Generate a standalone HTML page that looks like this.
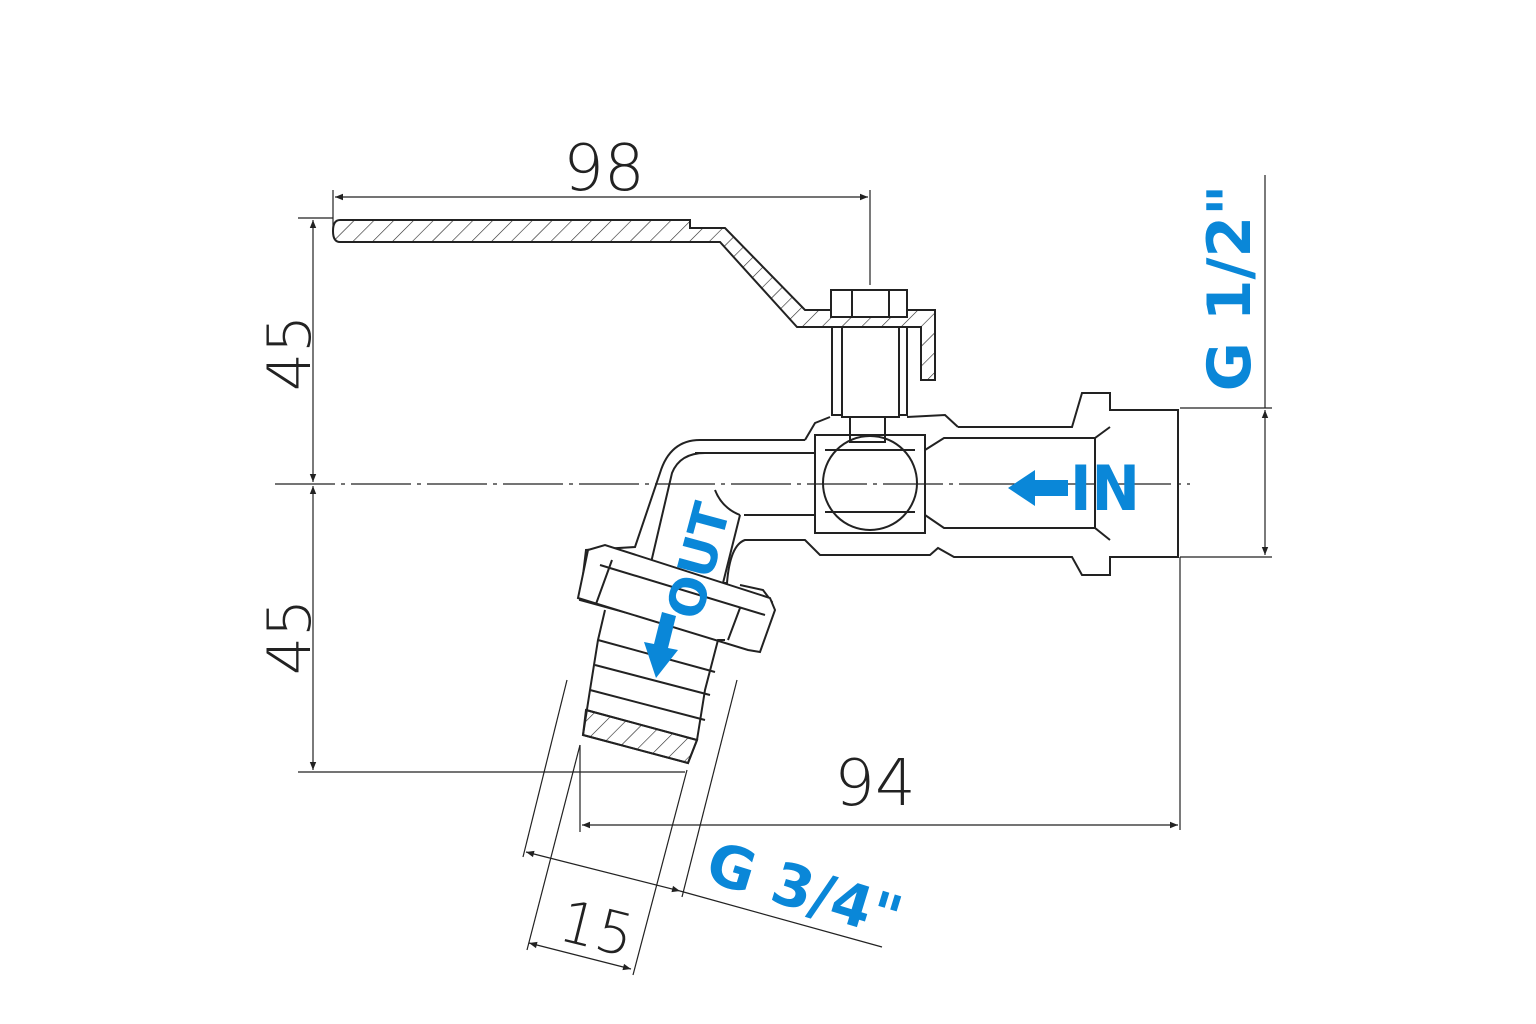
<!DOCTYPE html>
<html><head><meta charset="utf-8"><style>
html,body{margin:0;padding:0;background:#fff;}
svg{display:block}
.t{font-family:"DejaVu Sans","Liberation Sans",sans-serif;font-weight:200;fill:#222}
.b{font-family:"DejaVu Sans","Liberation Sans",sans-serif;font-weight:bold;fill:#0a87d8}
</style></head><body>
<svg width="1536" height="1024" viewBox="0 0 1536 1024" xmlns="http://www.w3.org/2000/svg">
<defs>
<pattern id="h" patternUnits="userSpaceOnUse" width="14" height="14" patternTransform="rotate(45)">
<line x1="0" y1="0" x2="0" y2="14" stroke="#222" stroke-width="1.2"/></pattern>
<marker id="a" viewBox="0 0 10 10" refX="10" refY="5" markerWidth="14" markerHeight="8" orient="auto-start-reverse" markerUnits="userSpaceOnUse"><path d="M0,1 L10,5 L0,9 z" fill="#222"/></marker>
</defs>
<g stroke="#222" stroke-width="1.2" fill="none">
<!-- 98 dim -->
<line x1="333" y1="190" x2="333" y2="232"/>
<line x1="870" y1="190" x2="870" y2="285"/>
<line x1="335" y1="197" x2="868" y2="197" marker-start="url(#a)" marker-end="url(#a)"/>
<!-- left vertical dims -->
<line x1="298" y1="218" x2="333" y2="218"/>
<line x1="275" y1="484" x2="1190" y2="484" stroke-dasharray="60 6 4 6"/>
<line x1="298" y1="772" x2="685" y2="772"/>
<line x1="313" y1="220" x2="313" y2="482" marker-start="url(#a)" marker-end="url(#a)"/>
<line x1="313" y1="486" x2="313" y2="770" marker-start="url(#a)" marker-end="url(#a)"/>
<!-- right dim -->
<line x1="1180" y1="408" x2="1272" y2="408"/>
<line x1="1180" y1="557" x2="1272" y2="557"/>
<line x1="1265" y1="175" x2="1265" y2="408"/>
<line x1="1265" y1="410" x2="1265" y2="555" marker-start="url(#a)" marker-end="url(#a)"/>
<!-- 94 -->
<line x1="1180" y1="557" x2="1180" y2="830"/>
<line x1="580" y1="745" x2="580" y2="832"/>
<line x1="582" y1="825" x2="1178" y2="825" marker-start="url(#a)" marker-end="url(#a)"/>
<!-- oblique dims -->
<line x1="567" y1="680" x2="523" y2="857"/>
<line x1="737" y1="680" x2="682" y2="897"/>
<line x1="526" y1="852" x2="680" y2="891" marker-start="url(#a)" marker-end="url(#a)"/>
<line x1="680" y1="891" x2="882" y2="947"/>
<line x1="580" y1="745" x2="527" y2="950"/>
<line x1="687" y1="770" x2="633" y2="975"/>
<line x1="529" y1="943" x2="631" y2="969" marker-start="url(#a)" marker-end="url(#a)"/>
</g>
<!-- handle -->
<g stroke="#222" stroke-width="2" fill="none">
<path d="M340,220 L690,220 L690,228 L725,228 L805,310 L935,310 L935,380 L921,380 L921,327 L797,327 L720,242 L340,242 Q333,242 333,231 Q333,220 340,220 Z" fill="url(#h)"/>
<!-- nut top -->
<rect x="831" y="290" width="76" height="27" fill="#fff"/>
<line x1="852" y1="290" x2="852" y2="317"/><line x1="889" y1="290" x2="889" y2="317"/>
<!-- stem / bonnet -->
<path d="M832,327 L832,415 L842,415 L842,327 M907,327 L907,415 L899,415 L899,327"/>
<rect x="842" y="327" width="57" height="90"/>
<rect x="850" y="417" width="35" height="25"/>
<!-- body -->
<path d="M958,427 L1072,427 L1082,393 L1110,393 L1110,410 L1178,410 L1178,557 L1110,557 L1110,575 L1082,575 L1072,557 L954,557 L938,548 L930,555 L820,555 L805,540 L745,540 Q730,545 727,583 L723,583 L752,647 L772,602 L763,590 L740,585 M805,440 L815,423 L830,417 M907,417 L945,415 L958,427"/>
<path d="M805,440 L700,440 Q670,440 660,473 L635,547 L586,550 L580,600 L752,647"/>
<path d="M695,453 L815,453 M744,515 L815,515 M715,490 Q722,508 740,515 M705,453 Q680,453 672,473 L650,567"/>
<path d="M740,515 L723,583"/>
<!-- ball housing -->
<rect x="815" y="435" width="110" height="98"/>
<circle cx="870" cy="483" r="47"/>
<line x1="825" y1="450" x2="915" y2="450"/><line x1="825" y1="512" x2="915" y2="512"/>
<!-- inner bore -->
<path d="M925,450 L944,438 L1095,438 L1110,427 M925,515 L944,528 L1095,528 L1110,540 M1095,438 L1095,528"/>
<!-- spout nut -->
<path d="M588,550 L605,545 L770,598 L775,610 L760,652 L748,650 L578,598 Z" fill="#fff"/>
<path d="M600,565 L765,615 M612,560 L596,604 M740,608 L728,640"/>
<!-- hose tail -->
<path d="M605,610 L598,640 L590,690 L583,735 L688,763 L697,740 L705,690 L718,640 L725,640"/>
<path d="M598,640 L715,672 M595,665 L710,695 M590,690 L705,720 M586,710 L697,740"/>
<path d="M586,710 L697,740 L688,763 L583,735 Z" fill="url(#h)"/>
</g>
<!-- blue arrows -->
<path d="M1008,488 L1035,470 L1035,480 L1068,480 L1068,496 L1035,496 L1035,506 Z" fill="#0a87d8"/>
<path d="M656,678 L644,642 L654,644 L662,612 L676,616 L668,648 L678,650 Z" fill="#0a87d8"/>
<text class="b" x="1070" y="510" font-size="62" textLength="70" lengthAdjust="spacingAndGlyphs">IN</text>
<text class="b" font-size="50" transform="translate(700,622) rotate(-75)">OUT</text>
<!-- texts -->
<text class="t" x="604" y="190" font-size="64" text-anchor="middle">98</text>
<text class="t" x="875" y="805" font-size="64" text-anchor="middle">94</text>
<text class="t" font-size="60" text-anchor="middle" transform="translate(310,353) rotate(-90)">45</text>
<text class="t" font-size="60" text-anchor="middle" transform="translate(310,637) rotate(-90)">45</text>
<text class="t" font-size="58" text-anchor="middle" transform="translate(592,948) rotate(14)">15</text>
<text class="b" font-size="58" transform="translate(703,880) rotate(17)">G 3/4"</text>
<text class="b" font-size="60" text-anchor="middle" transform="translate(1250,288) rotate(-90)">G 1/2"</text>
</svg>
</body></html>
